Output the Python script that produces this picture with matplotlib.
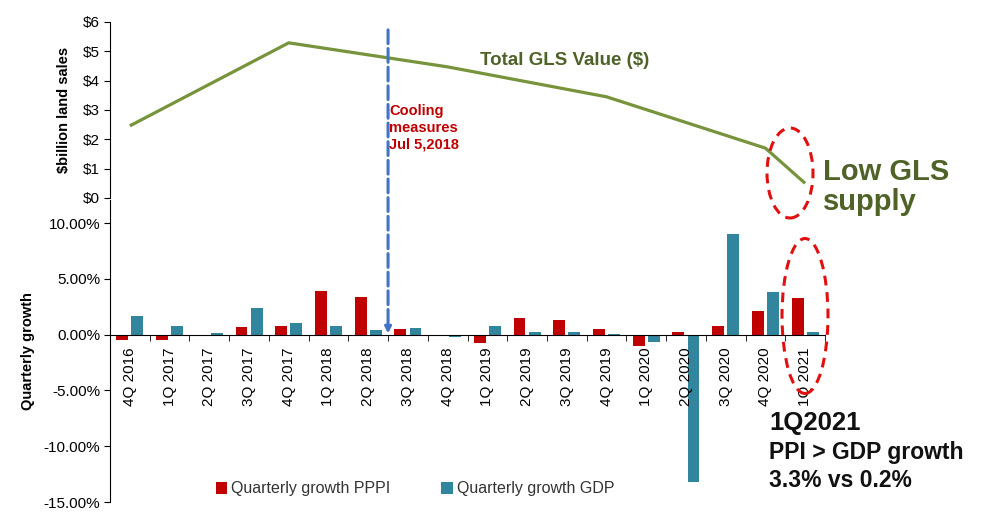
import matplotlib.pyplot as plt
from matplotlib.patches import ConnectionPatch, Ellipse
from matplotlib.ticker import FixedLocator, FuncFormatter

plt.rcParams["font.family"] = ["Liberation Sans", "DejaVu Sans"]

quarters = [
    "4Q 2016", "1Q 2017", "2Q 2017", "3Q 2017", "4Q 2017", "1Q 2018",
    "2Q 2018", "3Q 2018", "4Q 2018", "1Q 2019", "2Q 2019", "3Q 2019",
    "4Q 2019", "1Q 2020", "2Q 2020", "3Q 2020", "4Q 2020", "1Q 2021",
]
pppi_growth = [-0.51, -0.45, -0.15, 0.66, 0.78, 3.87, 3.39, 0.48, -0.09,
               -0.75, 1.47, 1.29, 0.48, -1.05, 0.24, 0.78, 2.10, 3.3]
gdp_growth = [1.65, 0.78, 0.15, 2.37, 1.05, 0.78, 0.45, 0.57, -0.21,
              0.78, 0.24, 0.24, 0.03, -0.66, -13.2, 9.0, 3.78, 0.2]

gls_quarters = ["4Q 2016", "4Q 2017", "4Q 2018", "4Q 2019", "4Q 2020", "1Q 2021"]
gls_value = [2.46, 5.29, 4.47, 3.45, 1.70, 0.50]

cooling_after = "2Q 2018"

RED = "#C00000"
TEAL = "#31859C"
GREEN_LINE = "#77933C"
GREEN_TEXT = "#4F6228"
W, H = 993, 524

fig = plt.figure(figsize=(W / 100, H / 100), dpi=100)
ax1 = fig.add_axes([110 / W, 1 - 198 / H, 715 / W, 176 / H])
ax2 = fig.add_axes([110 / W, 1 - 502 / H, 715 / W, 302 / H])

xs = list(range(len(quarters)))

# top: GLS value line
gx = [quarters.index(q) for q in gls_quarters]
ax1.plot(gx, gls_value, color=GREEN_LINE, lw=2.3, solid_capstyle="butt")
ax1.set_xlim(-0.5, len(quarters) - 0.5)
ax1.set_ylim(0, 6)
ax1.set_yticks(range(0, 7))
ax1.yaxis.set_major_formatter(FuncFormatter(lambda v, _: f"${v:.0f}"))
ax1.set_xticks([])
for s in ("top", "right", "bottom"):
    ax1.spines[s].set_visible(False)
ax1.tick_params(axis="y", labelsize=11, length=4, pad=3)
ax1.set_ylabel("$billion land sales", fontsize=10.5, fontweight="bold", labelpad=9)
ax1.patch.set_visible(False)

# bottom: growth bars
bw = 0.3
off = 0.19
ax2.bar([x - off for x in xs], pppi_growth, width=bw, color=RED,
        label="Quarterly growth PPPI")
ax2.bar([x + off for x in xs], gdp_growth, width=bw, color=TEAL,
        label="Quarterly growth GDP")
ax2.set_xlim(-0.5, len(quarters) - 0.5)
ax2.set_ylim(-15, 12.07)
ax2.set_yticks([-15, -10, -5, 0, 5, 10])
ax2.yaxis.set_major_formatter(FuncFormatter(lambda v, _: f"{v:.2f}%"))
ax2.spines["bottom"].set_position(("data", 0))
for s in ("top", "right"):
    ax2.spines[s].set_visible(False)
ax2.set_xticks(xs)
ax2.set_xticklabels(quarters, rotation=90, fontsize=11)
ax2.xaxis.set_minor_locator(FixedLocator([x + 0.5 for x in xs]))
ax2.tick_params(axis="x", which="major", length=0, pad=9)
ax2.tick_params(axis="x", which="minor", length=4)
ax2.tick_params(axis="y", labelsize=11, length=4, pad=3)
ax2.set_ylabel("Quarterly growth", fontsize=10.5, fontweight="bold", labelpad=6)
ax2.patch.set_visible(False)

leg = ax2.legend(loc="center", bbox_to_anchor=(415 / W, 1 - 489 / H),
                 bbox_transform=fig.transFigure, ncol=2, frameon=False,
                 fontsize=11.5, handlelength=0.7, handleheight=0.7,
                 handletextpad=0.25, columnspacing=3.2)
for t in leg.get_texts():
    t.set_color("#333333")

# cooling measures marker
cx = quarters.index(cooling_after) + 0.5
con = ConnectionPatch(xyA=(cx, 5.73), coordsA=ax1.transData,
                      xyB=(cx, 0.1), coordsB=ax2.transData,
                      arrowstyle="-|>", mutation_scale=9, color="#4472C4",
                      lw=2.2, linestyle=(0, (4.5, 1.6)))
fig.add_artist(con)
fig.text(389 / W, 1 - 104 / H, "Cooling\nmeasures\nJul 5,2018", color=RED,
         fontsize=10.5, fontweight="bold", va="top", ha="left", linespacing=1.25)

fig.text(480 / W, 1 - 61 / H, "Total GLS Value ($)", color=GREEN_TEXT,
         fontsize=13.5, fontweight="bold", va="center", ha="left")
fig.text(823 / W, 1 - 158 / H, "Low GLS\nsupply", color=GREEN_TEXT,
         fontsize=21, fontweight="bold", va="top", ha="left", linespacing=1.1)

for (ex, ey, ew, eh) in [(790, 173, 46, 90), (805, 316, 46, 155)]:
    fig.add_artist(Ellipse((ex / W, 1 - ey / H), ew / W, eh / H,
                           transform=fig.transFigure, fill=False,
                           edgecolor="#E01010", lw=2.2,
                           linestyle=(0, (3.2, 2.2))))

fig.text(769 / W, 1 - 430 / H, "1Q2021", fontsize=18.5, fontweight="bold",
         va="baseline", ha="left", color="#111111")
fig.text(769 / W, 1 - 459 / H, "PPI > GDP growth", fontsize=16.5,
         fontweight="bold", va="baseline", ha="left", color="#111111")
fig.text(769 / W, 1 - 487 / H, "3.3% vs 0.2%", fontsize=16.5,
         fontweight="bold", va="baseline", ha="left", color="#111111")

fig.savefig("out.png", dpi=100)
